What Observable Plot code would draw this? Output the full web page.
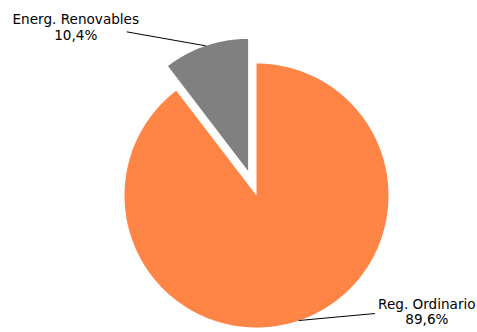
<!DOCTYPE html>
<html>
<head>
<meta charset="utf-8">
<script src="https://cdn.jsdelivr.net/npm/d3@7"></script>
<script src="https://cdn.jsdelivr.net/npm/@observablehq/plot@0.6"></script>
<style>
  html, body { margin: 0; padding: 0; background: #fff; }
  #chart svg { display: block; }
</style>
</head>
<body>
<div id="chart"></div>
<script>
const labels = ["Reg. Ordinario", "Energ. Renovables"];
const values = [89.6, 10.4];
const valueLabels = ["89,6%", "10,4%"];
const colors = ["#FF8546", "#808080"];

// layout (pixels)
const W = 477, H = 332;
const cx = 256, cy = 195, R = 132;
const explode = [0, 26 / R];
// leader line offsets (pixels) from slice outer midpoint and text offset from line end
const leader = [
  {dx: 76, dy: -7, tx: 52, ty: -2},
  {dx: -79, dy: -14, tx: -51, ty: -5}
];

const pie = d3.pie().sort(null).value(d => d)(values);

const pts = [];
const links = [];
const texts = [];
pie.forEach((p, i) => {
  const mid = (p.startAngle + p.endAngle) / 2;
  const ox = explode[i] * Math.sin(mid), oy = explode[i] * Math.cos(mid);
  pts.push({k: i, x: ox, y: oy, c: colors[i]});
  const n = Math.max(2, Math.ceil((p.endAngle - p.startAngle) / 0.01));
  for (let j = 0; j <= n; j++) {
    const a = p.startAngle + (p.endAngle - p.startAngle) * j / n;
    pts.push({k: i, x: ox + Math.sin(a), y: oy + Math.cos(a), c: colors[i]});
  }
  pts.push({k: i, x: ox, y: oy, c: colors[i]});
  const sx = ox + Math.sin(mid), sy = oy + Math.cos(mid);
  const ex = sx + leader[i].dx / R, ey = sy - leader[i].dy / R;
  links.push({x1: sx, y1: sy, x2: ex, y2: ey});
  texts.push({x: ex + leader[i].tx / R, y: ey - leader[i].ty / R, t: labels[i] + "\n" + valueLabels[i]});
});

const chart = Plot.plot({
  width: W,
  height: H,
  margin: 0,
  x: {domain: [-cx / R, (W - cx) / R], axis: null},
  y: {domain: [-(H - cy) / R, cy / R], axis: null},
  color: {type: "identity"},
  style: {fontFamily: "DejaVu Sans, Verdana, sans-serif", background: "#fff"},
  marks: [
    Plot.line(pts, {x: "x", y: "y", z: "k", fill: "c", stroke: null, curve: "linear"}),
    Plot.link(links, {x1: "x1", y1: "y1", x2: "x2", y2: "y2", stroke: "#000", strokeWidth: 1}),
    Plot.text(texts, {x: "x", y: "y", text: "t", fontSize: 13.6, fill: "#000", textAnchor: "middle", lineAnchor: "middle", lineHeight: 1.15})
  ]
});
document.getElementById("chart").appendChild(chart);
</script>
</body>
</html>
